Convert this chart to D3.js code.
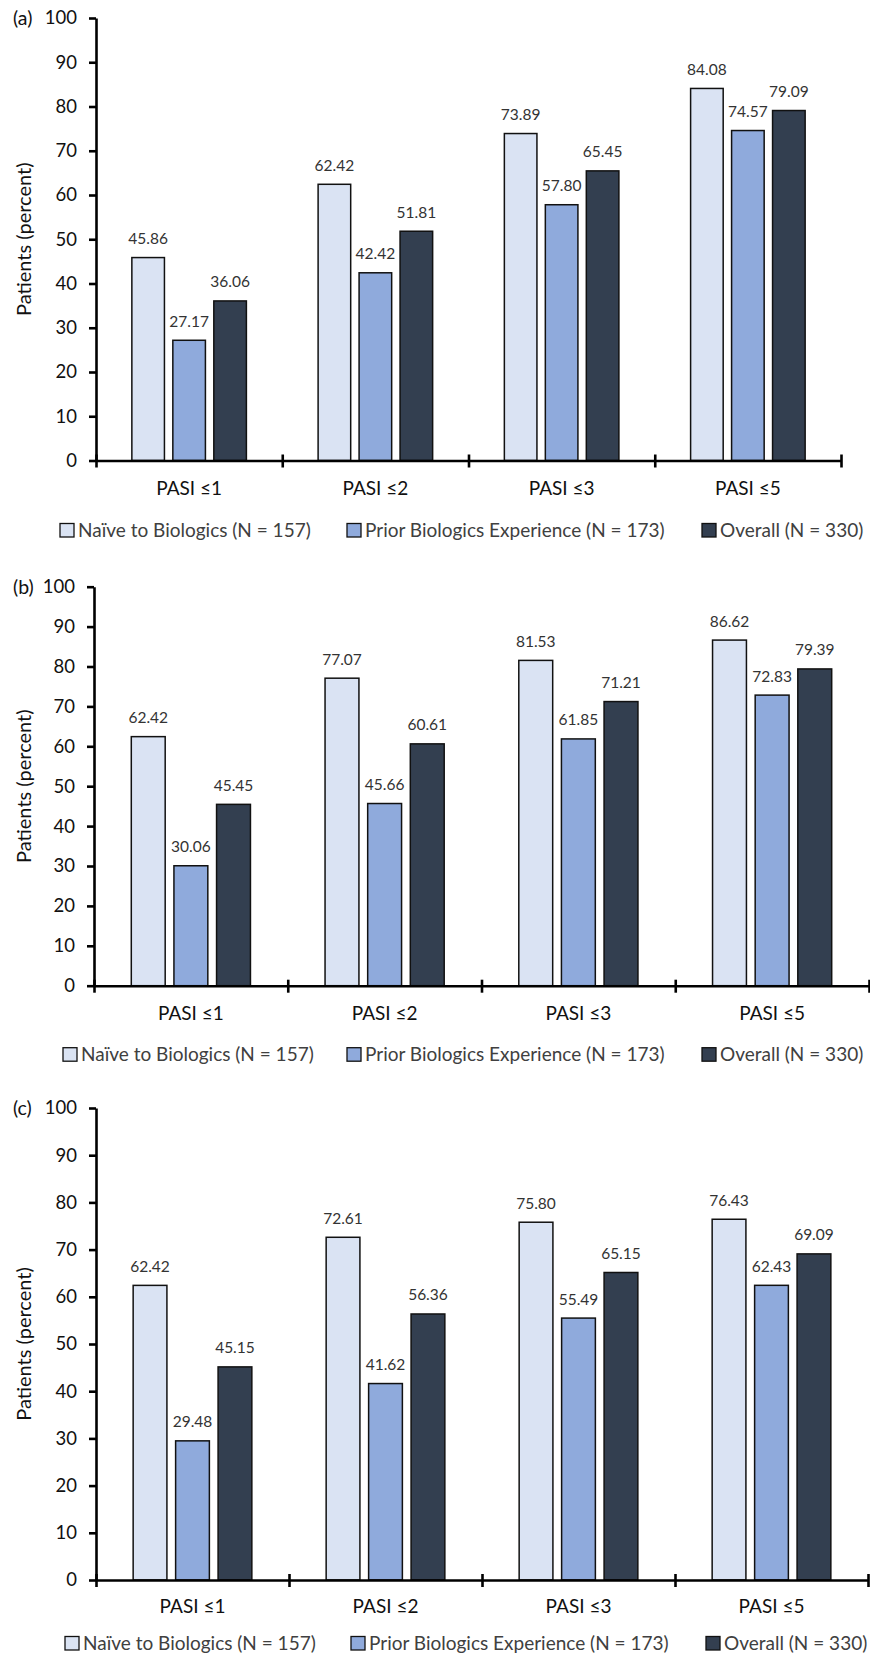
<!DOCTYPE html>
<html><head><meta charset="utf-8">
<script src="https://cdn.jsdelivr.net/npm/d3@7"></script>
<style>
body{margin:0;background:#fff}
svg{display:block}
text{font-family:Lato,"Open Sans",sans-serif}
</style>
</head><body>
<svg id="chart" width="870" height="1658"></svg>
<script>
// ---- data ----
const categories = ["PASI ≤1", "PASI ≤2", "PASI ≤3", "PASI ≤5"];
const seriesNames = ["Naïve to Biologics (N = 157)", "Prior Biologics Experience (N = 173)", "Overall (N = 330)"];
const yTickValues = [0, 10, 20, 30, 40, 50, 60, 70, 80, 90, 100];
const panelLabels = ["(a)", "(b)", "(c)"];
const yTitle = "Patients (percent)";

const naiveA   = [45.86, 62.42, 73.89, 84.08];
const priorA   = [27.17, 42.42, 57.80, 74.57];
const overallA = [36.06, 51.81, 65.45, 79.09];

const naiveB   = [62.42, 77.07, 81.53, 86.62];
const priorB   = [30.06, 45.66, 61.85, 72.83];
const overallB = [45.45, 60.61, 71.21, 79.39];

const naiveC   = [62.42, 72.61, 75.80, 76.43];
const priorC   = [29.48, 41.62, 55.49, 62.43];
const overallC = [45.15, 56.36, 65.15, 69.09];

const panelData = [[naiveA, priorA, overallA], [naiveB, priorB, overallB], [naiveC, priorC, overallC]];

// ---- style / layout ----
const colors = ["#dae3f3", "#8faadc", "#333f50"];
const layout = [
  {x0: 96, x1: 841, yTop: 18,    yBot: 460.5, labelPad: 21,   legendOff: 76.5, legendX: [60, 347, 702]},
  {x0: 94, x1: 869, yTop: 586.7, yBot: 985.7, labelPad: 21,   legendOff: 75.5, legendX: [63, 347, 702]},
  {x0: 96, x1: 868, yTop: 1108,  yBot: 1580,  labelPad: 19.5, legendOff: 70,   legendX: [65, 351, 706]}
];

const svg = d3.select("#chart");

layout.forEach((L, pi) => {
  const g = svg.append("g");
  const data = panelData[pi];

  const y = d3.scaleLinear().domain([0, 100]).range([L.yBot, L.yTop]);
  const xBand = d3.scaleBand().domain(categories).range([L.x0, L.x1]).padding(0);
  const xSub = d3.scaleBand().domain(d3.range(seriesNames.length))
    .range([0, xBand.bandwidth()]).paddingInner(0.205).paddingOuter(0.875);
  const xEdge = d3.scaleLinear().domain([0, categories.length]).range([L.x0, L.x1]);

  // bars + value labels
  data.forEach((vals, si) => {
    g.selectAll(null).data(vals).enter().append("rect")
      .attr("x", (d, i) => xBand(categories[i]) + xSub(si))
      .attr("y", d => y(d))
      .attr("width", xSub.bandwidth())
      .attr("height", d => y(0) - y(d))
      .attr("fill", colors[si])
      .attr("stroke", "#111")
      .attr("stroke-width", 1.5);
    g.selectAll(null).data(vals).enter().append("text")
      .attr("x", (d, i) => xBand(categories[i]) + xSub(si) + xSub.bandwidth() / 2)
      .attr("y", d => y(d) - 13.5)
      .attr("text-anchor", "middle")
      .attr("font-size", 15.5)
      .attr("fill", "#333")
      .text(d => d.toFixed(2));
  });

  // y axis
  const yAxis = g.append("g").attr("transform", `translate(${L.x0},0)`)
    .call(d3.axisLeft(y).tickValues(yTickValues).tickSizeInner(7).tickSizeOuter(0).tickPadding(12).tickFormat(d3.format("d")));
  yAxis.select(".domain").attr("stroke", "#000").attr("stroke-width", 2.6);
  yAxis.selectAll(".tick line").attr("stroke", "#000").attr("stroke-width", 2.6);
  yAxis.selectAll(".tick text").attr("font-size", 18.5).attr("fill", "#111").attr("font-family", "Lato");

  // x axis (category boundary ticks crossing the axis)
  const xAxis = g.append("g").attr("transform", `translate(0,${L.yBot})`)
    .call(d3.axisBottom(xEdge).tickValues(d3.range(categories.length + 1)).tickSizeInner(7).tickSizeOuter(0).tickFormat(""));
  xAxis.select(".domain").attr("stroke", "#000").attr("stroke-width", 2.6);
  xAxis.selectAll(".tick line").attr("stroke", "#000").attr("stroke-width", 2.6).attr("y1", -6);

  // category labels
  const catAxis = g.append("g").attr("transform", `translate(0,${L.yBot})`)
    .call(d3.axisBottom(xBand).tickSize(0).tickPadding(L.labelPad));
  catAxis.select(".domain").remove();
  catAxis.selectAll(".tick text").attr("font-size", 19).attr("fill", "#111").attr("font-family", "Lato");

  // panel label
  g.append("text").attr("x", 13).attr("y", L.yTop).attr("dy", "0.36em")
    .attr("font-size", 19.5).attr("fill", "#111").text(panelLabels[pi]);

  // y title
  g.append("text")
    .attr("transform", `translate(31,${(L.yTop + L.yBot) / 2}) rotate(-90)`)
    .attr("text-anchor", "middle")
    .attr("font-size", 20).attr("fill", "#111")
    .text(yTitle);

  // legend
  const legY = L.yBot + L.legendOff;
  const leg = g.selectAll(".leg").data(seriesNames).enter().append("g")
    .attr("transform", (d, i) => `translate(${L.legendX[i]},${legY})`);
  leg.append("rect").attr("x", 0).attr("y", -13.5).attr("width", 14).attr("height", 13.5)
    .attr("fill", (d, i) => colors[i]).attr("stroke", "#111").attr("stroke-width", 1.3);
  leg.append("text").attr("x", 18).attr("y", 0)
    .attr("font-size", 19).attr("fill", "#404040").text(d => d);
});
</script>
</body></html>
